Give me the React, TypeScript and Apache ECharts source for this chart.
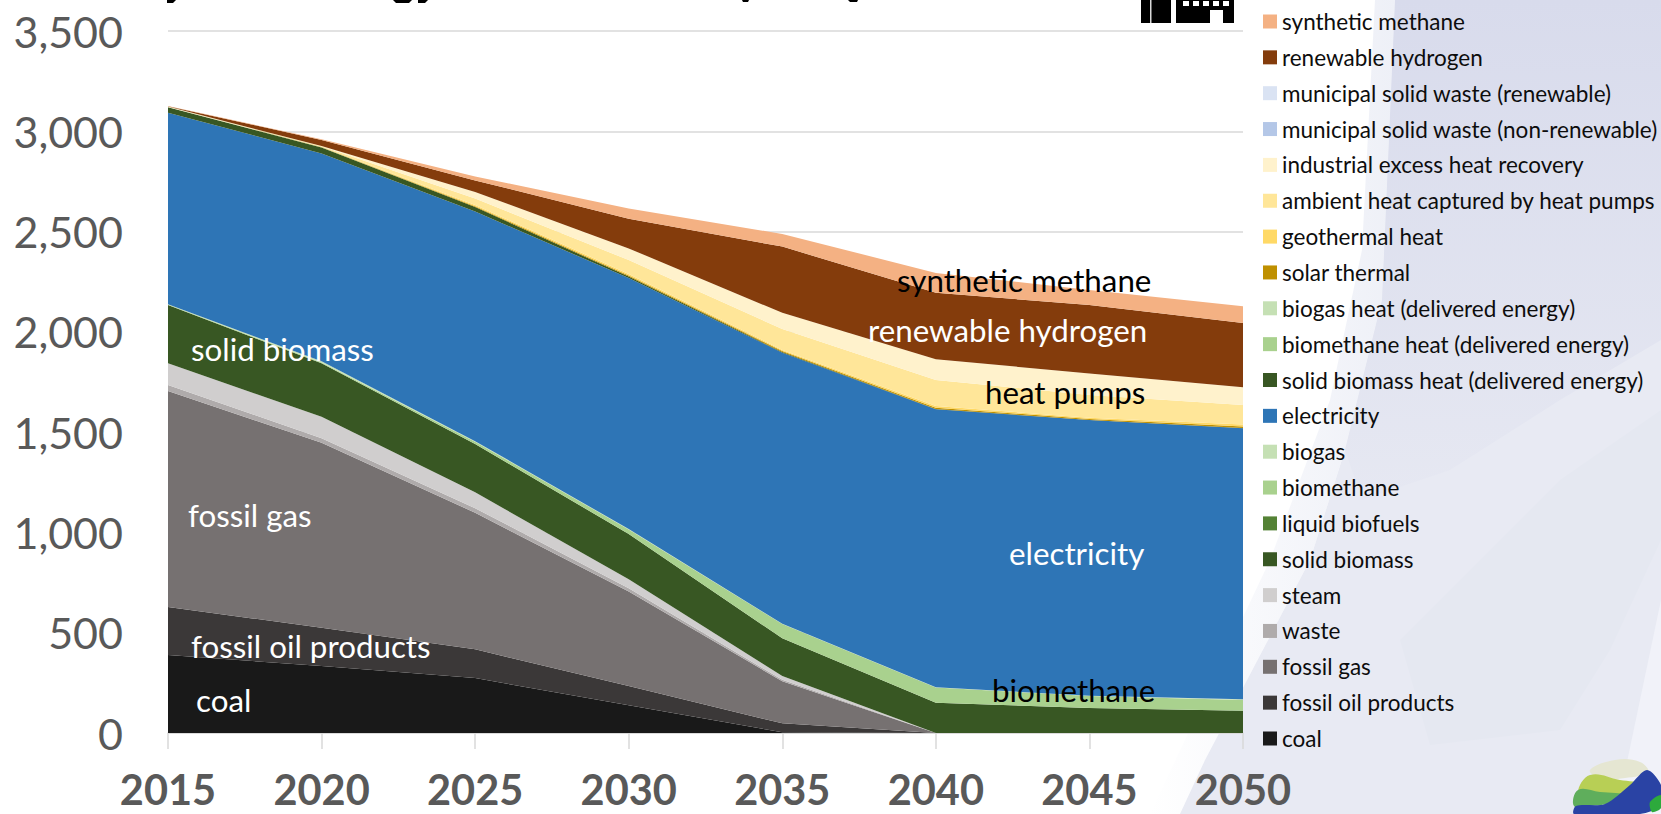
import React, { useEffect, useRef } from "react";
import * as echarts from "echarts";

const years = ["2015", "2020", "2025", "2030", "2035", "2040", "2045", "2050"];
const yTicks = { min: 0, max: 3500, interval: 500 };

const coal = [389, 334, 274, 138, 4, 0, 0, 0];
const fossilOil = [239, 191, 143, 96, 44, 0, 0, 0];
const fossilGas = [1077, 922, 681, 471, 210, 0, 0, 0];
const waste = [30, 23, 23, 17, 7, 0, 0, 0];
const steam = [108, 107, 79, 44, 19, 0, 0, 0];
const solidBiomass = [291, 266, 241, 226, 188, 151, 125, 111];
const liquidBiofuels = [0, 0, 0, 0, 0, 0, 0, 0];
const biomethane = [2, 4, 11, 23, 71, 76, 59, 54];
const biogas = [2, 6, 3, 2, 2, 1, 2, 3];
const electricity = [955, 1036, 1145, 1251, 1351, 1386, 1374, 1352];
const solidBiomassHeat = [27, 30, 22, 8, 3, 1, 1, 1];
const biomethaneHeat = [0, 1, 0, 0, 0, 0, 0, 0];
const biogasHeat = [1, 1, 0, 0, 0, 0, 0, 0];
const solarThermal = [0, 1, 4, 5, 5, 7, 5, 7];
const geothermal = [0, 1, 6, 8, 6, 8, 6, 10];
const ambientHeat = [1, 2, 33, 69, 104, 130, 113, 97];
const industrialHeat = [1, 2, 32, 58, 81, 103, 108, 89];
const mswNonRenewable = [0, 0, 0, 0, 0, 0, 0, 0];
const mswRenewable = [0, 0, 0, 0, 0, 0, 0, 0];
const renewableHydrogen = [2, 30, 58, 148, 330, 332, 341, 320];
const syntheticMethane = [1, 3, 20, 51, 63, 99, 75, 84];

const seriesDefs: [string, number[], string][] = [
  ["coal", coal, "#191919"],
  ["fossil oil products", fossilOil, "#3B3838"],
  ["fossil gas", fossilGas, "#767171"],
  ["waste", waste, "#AFABAB"],
  ["steam", steam, "#D0CECE"],
  ["solid biomass", solidBiomass, "#385723"],
  ["liquid biofuels", liquidBiofuels, "#548235"],
  ["biomethane", biomethane, "#A9D18E"],
  ["biogas", biogas, "#C5E0B4"],
  ["electricity", electricity, "#2E75B6"],
  ["solid biomass heat (delivered energy)", solidBiomassHeat, "#385723"],
  ["biomethane heat (delivered energy)", biomethaneHeat, "#A9D18E"],
  ["biogas heat (delivered energy)", biogasHeat, "#C5E0B4"],
  ["solar thermal", solarThermal, "#BF9000"],
  ["geothermal heat", geothermal, "#FFD966"],
  ["ambient heat captured by heat pumps", ambientHeat, "#FFE699"],
  ["industrial excess heat recovery", industrialHeat, "#FFF2CC"],
  ["municipal solid waste (non-renewable)", mswNonRenewable, "#B4C7E7"],
  ["municipal solid waste (renewable)", mswRenewable, "#DAE3F3"],
  ["renewable hydrogen", renewableHydrogen, "#843C0C"],
  ["synthetic methane", syntheticMethane, "#F4B183"],
];

const FONT = "Lato";

const areaLabels: [string, number, number, string][] = [
  ["synthetic methane", 897, 280, "#000000"],
  ["renewable hydrogen", 868, 330, "#FFFFFF"],
  ["heat pumps", 985, 392, "#000000"],
  ["biomethane", 992, 690, "#000000"],
  ["electricity", 1009, 553, "#FFFFFF"],
  ["solid biomass", 191, 349, "#FFFFFF"],
  ["fossil gas", 188, 515, "#FFFFFF"],
  ["fossil oil products", 191, 646, "#FFFFFF"],
  ["coal", 196, 700, "#FFFFFF"],
];

function poly(points: number[][], fill: any, z: number, smooth = 0) {
  return { type: "polygon", silent: true, z, shape: { points, smooth }, style: { fill } };
}
function rect(x: number, y: number, width: number, height: number, fill: string, z = 50) {
  return { type: "rect", silent: true, z, shape: { x, y, width, height }, style: { fill } };
}
const hGrad = (from: string, to: string) =>
  new echarts.graphic.LinearGradient(0, 0, 1, 0, [{ offset: 0, color: from }, { offset: 1, color: to }]);

const backdrop = [
  poly([[1375, 0], [1395, 0], [1382, 300], [1345, 450], [1310, 560], [1205, 760], [1180, 814], [1150, 814], [1270, 560], [1330, 400], [1362, 250]], hGrad("#FFFFFF", "#EEF0F7"), -6),
  poly([[1395, 0], [1661, 0], [1661, 814], [1180, 814], [1205, 760], [1310, 560], [1345, 450], [1382, 300]], "#E8EAF3", -5),
  poly([[1395, 0], [1661, 0], [1661, 340], [1560, 400], [1450, 470], [1362, 500], [1345, 450], [1382, 300]], new echarts.graphic.LinearGradient(0, 0, 0, 1, [{ offset: 0, color: "#D8DBEC" }, { offset: 1, color: "#E6E8F2" }]), -4),
  poly([[1400, 640], [1560, 480], [1661, 410], [1661, 540], [1610, 650], [1560, 730], [1430, 745]], "#E5E8F1", -4),
  poly([[1661, 600], [1627, 762], [1590, 814], [1661, 814]], "#F1F2F9", -3),
];

const logo = [
  poly([[1590, 770], [1615, 760], [1640, 762], [1648, 772], [1625, 778], [1600, 778]], "#E5E6D2", 6, 0.4),
  poly([[1578, 792], [1590, 775], [1620, 780], [1640, 784], [1620, 795], [1590, 795]], "#B8CF55", 7, 0.4),
  poly([[1574, 806], [1578, 790], [1600, 792], [1625, 795], [1610, 803], [1590, 806]], "#5FAE5C", 8, 0.4),
  poly([[1574, 814], [1576, 806], [1605, 804], [1630, 785], [1647, 770], [1661, 785], [1661, 805], [1640, 814]], "#2A43A4", 9, 0.3),
  poly([[1650, 802], [1661, 795], [1661, 808], [1652, 812]], "#2DAA3C", 10, 0.3),
];

const topIcon = [
  rect(1141, 0, 93, 23, "#000000"),
  rect(1150, 0, 1.5, 23, "#D8D8D8", 51),
  rect(1171, 0, 5, 23, "#FFFFFF", 51),
  rect(1183, 1, 6, 5, "#FFFFFF", 51),
  rect(1193, 1, 6, 5, "#FFFFFF", 51),
  rect(1203, 1, 6, 5, "#FFFFFF", 51),
  rect(1213, 1, 6, 5, "#FFFFFF", 51),
  rect(1223, 1, 6, 5, "#FFFFFF", 51),
  rect(1210, 10, 13, 13, "#FFFFFF", 51),
];

// lower edges of the cropped heading, left at the very top of the slide
const headingCrop = [
  poly([[167, 0], [176, 0], [173, 3], [167, 3]], "#000000", 50),
  poly([[393, 0], [412, 0], [409, 3], [396, 3]], "#000000", 50),
  poly([[418, 0], [428, 0], [425, 3], [418, 3]], "#000000", 50),
  poly([[742, 0], [749, 0], [748, 2], [743, 2]], "#000000", 50),
  poly([[848, 0], [858, 0], [857, 2], [850, 2]], "#000000", 50),
];

export default function App() {
  const ref = useRef<HTMLDivElement>(null);
  useEffect(() => {
    if (!ref.current) return;
    const chart = echarts.init(ref.current, undefined, { renderer: "svg" });
    chart.setOption({
      animation: false,
      backgroundColor: "#FFFFFF",
      textStyle: { fontFamily: FONT },
      grid: { left: 168, right: 418, top: 31, bottom: 81, containLabel: false },
      legend: {
        orient: "vertical",
        left: 1263,
        top: 10,
        padding: 0,
        itemWidth: 14,
        itemHeight: 14,
        itemGap: 12.85,
        icon: "rect",
        selectedMode: false,
        data: [...seriesDefs].reverse().map((s) => s[0]),
        textStyle: { fontFamily: FONT, fontSize: 22.5, lineHeight: 23, color: "#0D0D0D" },
      },
      xAxis: {
        type: "category",
        data: years,
        boundaryGap: false,
        axisLine: { lineStyle: { color: "#D9D9D9", width: 1.5 } },
        axisTick: { show: true, length: 16, lineStyle: { color: "#D9D9D9", width: 1.5 } },
        axisLabel: { margin: 37, fontFamily: FONT, fontSize: 41.5, lineHeight: 38, fontWeight: "bold", color: "#595959", showMaxLabel: true, showMinLabel: true, interval: 0 },
      },
      yAxis: {
        type: "value",
        min: yTicks.min,
        max: yTicks.max,
        interval: yTicks.interval,
        axisLine: { show: false },
        axisTick: { show: false },
        splitLine: { lineStyle: { color: "#D9D9D9", width: 1.5 } },
        axisLabel: {
          margin: 45,
          fontFamily: FONT,
          fontSize: 43,
          color: "#595959",
          formatter: (v: number) => v.toLocaleString("en-US"),
        },
      },
      series: seriesDefs.map(([name, data, color]) => ({
        name,
        type: "line",
        stack: "total",
        data,
        color,
        symbol: "none",
        showSymbol: false,
        silent: true,
        lineStyle: { width: 0 },
        itemStyle: { color },
        areaStyle: { color, opacity: 1 },
      })),
      graphic: {
        elements: [
          ...backdrop,
          ...logo,
          ...topIcon,
          ...headingCrop,
          ...areaLabels.map(([text, x, y, fill]) => ({
            type: "text",
            silent: true,
            z: 100,
            x,
            y,
            style: { text, fill, font: `31.3px ${FONT}`, textVerticalAlign: "middle", textAlign: "left" },
          })),
        ],
      },
    });
    return () => chart.dispose();
  }, []);
  return <div ref={ref} style={{ position: "absolute", left: 0, top: 0, width: 1661, height: 814 }} />;
}
